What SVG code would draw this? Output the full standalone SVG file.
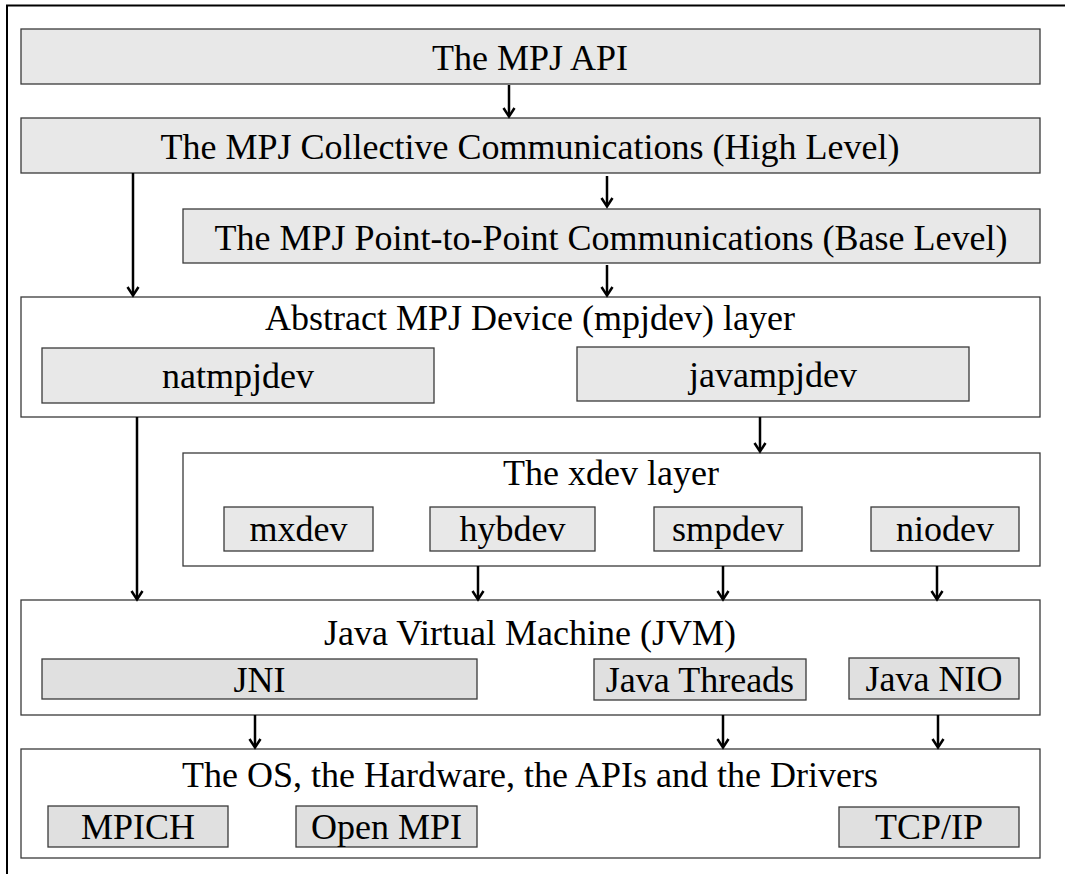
<svg xmlns="http://www.w3.org/2000/svg" width="1071" height="875" viewBox="0 0 1071 875">
<style>
.g{fill:#e8e8e8;stroke:#3a3a3a;stroke-width:1.3}
.g2{fill:#e0e0e0;stroke:#3a3a3a;stroke-width:1.3}
.w{fill:#ffffff;stroke:#3a3a3a;stroke-width:1.3}
text{font-family:'Liberation Serif','Tinos','Times New Roman','DejaVu Serif',serif;font-size:36px;fill:#000;text-anchor:middle}
.c{stroke:#000;stroke-width:2.5;fill:none}
.h{stroke:#000;stroke-width:2.5;fill:none;stroke-linejoin:miter}
</style>
<rect width="1071" height="875" fill="#fff"/>
<g id="frame"><path d="M7,874 V5.5 H1065" stroke="#000" stroke-width="2" fill="none"/></g>

<g id="api"><rect class="g" x="21" y="29" width="1019" height="55"/><text x="530" y="70" font-family="Liberation Serif, serif">The MPJ API</text></g>
<g id="collective"><rect class="g" x="21" y="118" width="1019" height="55"/><text x="530" y="159">The MPJ Collective Communications (High Level)</text></g>
<g id="p2p"><rect class="g" x="183" y="209" width="857" height="54"/><text x="611" y="250">The MPJ Point-to-Point Communications (Base Level)</text></g>

<g id="mpjdev"><rect class="w" x="21" y="297" width="1019" height="120"/><text x="530" y="330">Abstract MPJ Device (mpjdev) layer</text></g>
<g id="natmpjdev"><rect class="g" x="42" y="348" width="392" height="55"/><text x="238" y="388">natmpjdev</text></g>
<g id="javampjdev"><rect class="g" x="577" y="347" width="392" height="54"/><text x="773" y="387">javampjdev</text></g>

<g id="xdev"><rect class="w" x="183" y="453" width="857" height="113"/><text x="611" y="485">The xdev layer</text></g>
<g id="mxdev"><rect class="g" x="224" y="507" width="149" height="44"/><text x="298.5" y="541">mxdev</text></g>
<g id="hybdev"><rect class="g" x="430" y="507" width="165" height="44"/><text x="512.5" y="541">hybdev</text></g>
<g id="smpdev"><rect class="g" x="654" y="507" width="148" height="44"/><text x="728" y="541">smpdev</text></g>
<g id="niodev"><rect class="g" x="871" y="507" width="148" height="44"/><text x="945" y="541">niodev</text></g>

<g id="jvm"><rect class="w" x="21" y="600" width="1019" height="115"/><text x="530" y="645">Java Virtual Machine (JVM)</text></g>
<g id="jni"><rect class="g2" x="42" y="659" width="435" height="40"/><text x="259.5" y="692">JNI</text></g>
<g id="threads"><rect class="g2" x="594" y="659" width="212" height="41"/><text x="700" y="692">Java Threads</text></g>
<g id="nio"><rect class="g2" x="849" y="658" width="170" height="41"/><text x="934" y="691">Java NIO</text></g>

<g id="os"><rect class="w" x="21" y="749" width="1019" height="109"/><text x="530" y="787">The OS, the Hardware, the APIs and the Drivers</text></g>
<g id="mpich"><rect class="g2" x="48" y="806" width="180" height="41"/><text x="138" y="839">MPICH</text></g>
<g id="openmpi"><rect class="g2" x="296" y="806" width="181" height="41"/><text x="386.5" y="839">Open MPI</text></g>
<g id="tcpip"><rect class="g2" x="839" y="807" width="180" height="40"/><text x="929" y="839">TCP/IP</text></g>

<g id="connectors">
<path class="c" d="M509,85 V116"/><path class="h" d="M503.5,108 L509,116.5 L514.5,108"/>
<path class="c" d="M607,176 V206"/><path class="h" d="M601.5,198 L607,206.5 L612.5,198"/>
<path class="c" d="M607,265 V295"/><path class="h" d="M601.5,287 L607,295.5 L612.5,287"/>
<path class="c" d="M133,173 V295"/><path class="h" d="M127.5,287 L133,295.5 L138.5,287"/>
<path class="c" d="M760,417 V451"/><path class="h" d="M754.5,443 L760,451.5 L765.5,443"/>
<path class="c" d="M137,417 V599"/><path class="h" d="M131.5,591 L137,599.5 L142.5,591"/>
<path class="c" d="M478,566 V599"/><path class="h" d="M472.5,591 L478,599.5 L483.5,591"/>
<path class="c" d="M723,566 V599"/><path class="h" d="M717.5,591 L723,599.5 L728.5,591"/>
<path class="c" d="M937,566 V599"/><path class="h" d="M931.5,591 L937,599.5 L942.5,591"/>
<path class="c" d="M255,715 V747"/><path class="h" d="M249.5,739 L255,747.5 L260.5,739"/>
<path class="c" d="M723,715 V747"/><path class="h" d="M717.5,739 L723,747.5 L728.5,739"/>
<path class="c" d="M938,715 V747"/><path class="h" d="M932.5,739 L938,747.5 L943.5,739"/>
</g>
</svg>
